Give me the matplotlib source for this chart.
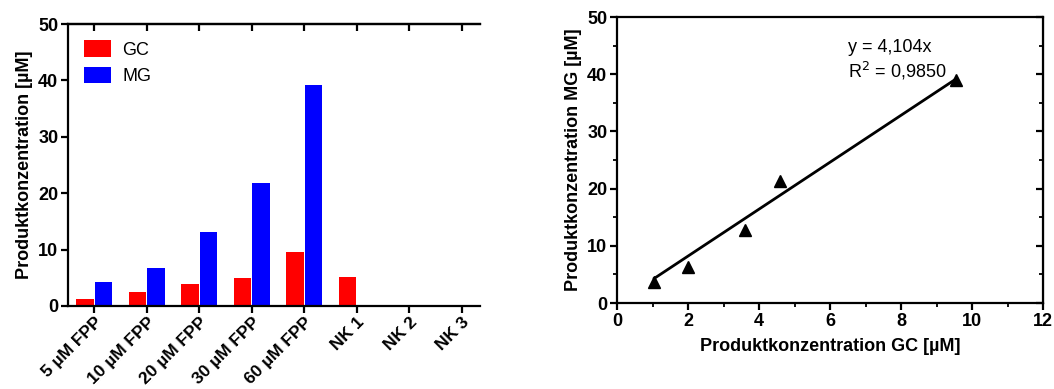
import matplotlib.pyplot as plt
import numpy as np

plt.rcParams['font.family'] = ['Liberation Sans', 'DejaVu Sans']

kategorien = ['5 µM FPP', '10 µM FPP', '20 µM FPP', '30 µM FPP', '60 µM FPP',
              'NK 1', 'NK 2', 'NK 3']
gc = [1.2, 2.4, 3.9, 5.0, 9.6, 5.1, 0, 0]
mg = [4.2, 6.7, 13.1, 21.8, 39.2, 0, 0, 0]

gc_x = [1.05, 2.0, 3.6, 4.6, 9.55]
mg_y = [3.7, 6.3, 12.8, 21.4, 39.0]
steigung = 4.104

fs = 13

fig = plt.figure(figsize=(10.54, 3.89), dpi=100)

# Balkendiagramm
ax1 = fig.add_axes([0.0645, 0.2134, 0.3905, 0.7246])
x = np.arange(len(kategorien))
b = 0.33
ax1.bar(x - b / 2 - 0.01, gc, b, color='#ff0000', label='GC')
ax1.bar(x + b / 2 + 0.01, mg, b, color='#0000ff', label='MG')
ax1.set_xlim(-0.5, 7.34)
ax1.set_ylim(0, 50)
ax1.set_yticks([0, 10, 20, 30, 40, 50])
ax1.set_xticks(x)
ax1.set_xticklabels(kategorien, rotation=45, ha='right', rotation_mode='anchor',
                    fontweight='bold', fontsize=12.5)
for t in ax1.get_yticklabels():
    t.set_fontweight('bold')
    t.set_fontsize(fs)
ax1.set_ylabel('Produktkonzentration [µM]', fontweight='bold', fontsize=fs, labelpad=4)
ax1.spines['right'].set_visible(False)
for s in ['left', 'bottom', 'top']:
    ax1.spines[s].set_linewidth(1.6)
ax1.tick_params(axis='both', width=1.6, length=5, pad=2)
ax1.tick_params(axis='x', pad=1)
sec = ax1.secondary_xaxis('top')
sec.set_xticks(x)
sec.set_xticklabels([])
sec.tick_params(direction='in', width=1.6, length=5)
sec.spines['top'].set_linewidth(1.6)
ax1.legend(loc='upper left', frameon=False, fontsize=fs, handlelength=1.5,
           handleheight=1.0, borderaxespad=0.5, labelspacing=0.45, handletextpad=0.6)

# Streudiagramm
ax2 = fig.add_axes([0.5854, 0.221, 0.4042, 0.735])
ax2.plot(gc_x, mg_y, '^', color='black', markersize=9)
xl = np.array([min(gc_x), max(gc_x)])
ax2.plot(xl, steigung * xl, color='black', linewidth=2)
ax2.set_xlim(0, 12)
ax2.set_ylim(0, 50)
ax2.set_xticks(np.arange(0, 13, 2))
ax2.set_xticks(np.arange(0, 13, 1), minor=True)
ax2.set_yticks(np.arange(0, 51, 10))
ax2.set_yticks(np.arange(0, 51, 5), minor=True)
for t in ax2.get_xticklabels() + ax2.get_yticklabels():
    t.set_fontweight('bold')
    t.set_fontsize(fs)
ax2.set_xlabel('Produktkonzentration GC [µM]', fontweight='bold', fontsize=fs, labelpad=6)
ax2.set_ylabel('Produktkonzentration MG [µM]', fontweight='bold', fontsize=fs, labelpad=4)
for s in ax2.spines.values():
    s.set_linewidth(1.6)
ax2.tick_params(which='major', width=1.6, length=5, pad=2)
ax2.tick_params(which='minor', width=1.3, length=3)
ax2r = ax2.secondary_yaxis('right')
ax2r.set_yticks(np.arange(0, 51, 10))
ax2r.set_yticks(np.arange(0, 51, 5), minor=True)
ax2r.set_yticklabels([])
ax2r.tick_params(which='major', direction='in', width=1.6, length=5)
ax2r.tick_params(which='minor', direction='in', width=1.3, length=3)
ax2.text(6.5, 44.6, 'y = 4,104x', fontsize=fs, va='center')
ax2.text(6.5, 40.6, 'R$^2$ = 0,9850', fontsize=fs, va='center')

fig.savefig('out.png', dpi=100)
